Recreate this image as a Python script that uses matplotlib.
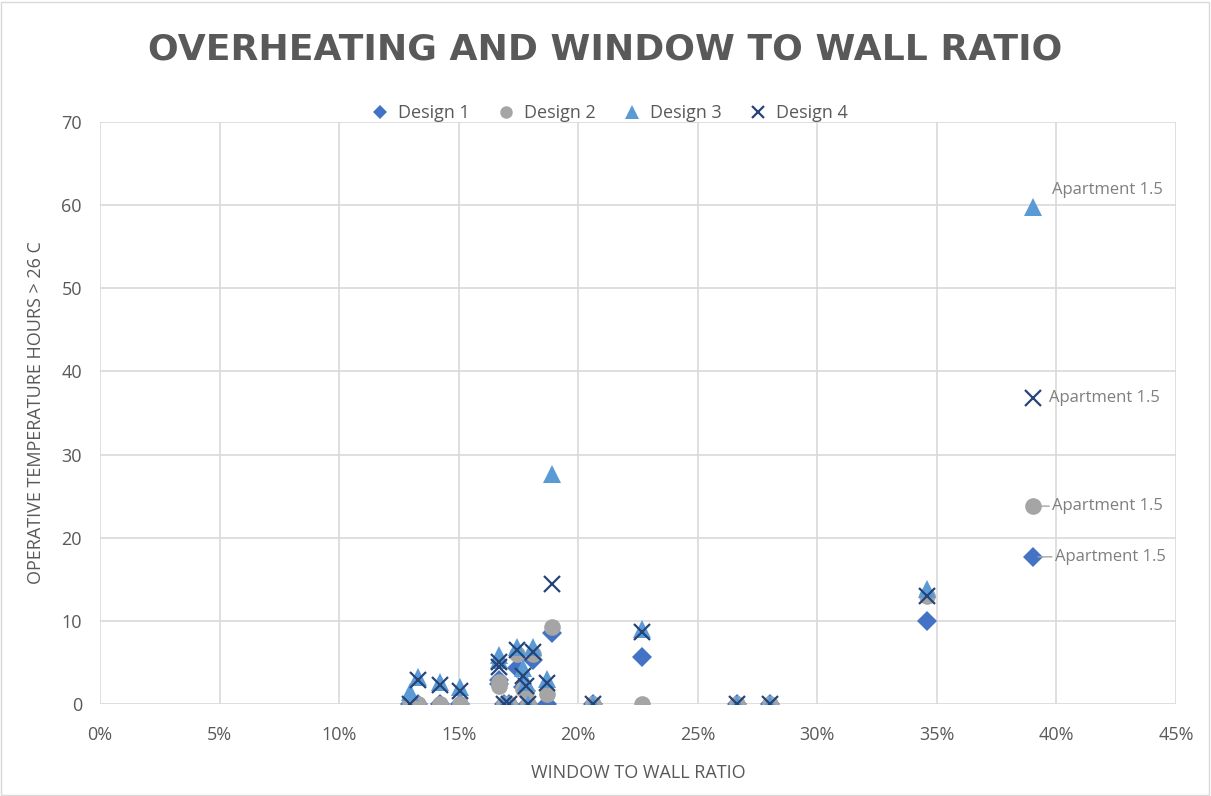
import matplotlib
matplotlib.use("Agg")
import matplotlib.pyplot as plt
from matplotlib.ticker import FuncFormatter
from matplotlib.patches import Rectangle

# Window-to-wall ratio of each apartment (shared by all designs)
wwr = [0.1295, 0.1330, 0.1420, 0.1505, 0.1670, 0.1670, 0.1690, 0.1710,
       0.1745, 0.1770, 0.1780, 0.1790, 0.1810, 0.1870, 0.1890, 0.2060,
       0.2265, 0.2665, 0.2800, 0.3460, 0.3900]

# Hours with operative temperature above 26 C, per design
design1 = [0.0, 0.0, 0.0, 0.0, 2.9, 2.4, 0.0, 0.0, 4.3, 2.0, 1.6, 0.0,
           5.3, 0.0, 8.5, 0.0, 5.6, 0.0, 0.0, 10.0, 17.7]
design2 = [0.0, 0.0, 0.0, 0.0, 2.6, 2.2, 0.0, 0.0, 6.0, 1.8, 1.4, 0.0,
           6.0, 1.2, 9.3, 0.0, 0.0, 0.0, 0.0, 13.0, 23.8]
design3 = [1.5, 3.3, 2.7, 2.0, 5.9, 5.3, 0.0, 0.0, 6.8, 4.3, 2.6, 0.0,
           6.8, 3.0, 27.7, 0.0, 9.0, 0.0, 0.0, 13.8, 59.8]
design4 = [0.0, 2.9, 2.3, 1.6, 5.0, 4.5, 0.0, 0.0, 6.5, 3.4, 2.2, 0.0,
           6.3, 2.5, 14.4, 0.0, 8.7, 0.0, 0.0, 13.0, 36.8]

series_names = ["Design 1", "Design 2", "Design 3", "Design 4"]
label_text = "Apartment 1.5"
x_ticks = [0, 0.05, 0.10, 0.15, 0.20, 0.25, 0.30, 0.35, 0.40, 0.45]
y_ticks = [0, 10, 20, 30, 40, 50, 60, 70]

TEXT = "#595959"
GRID = "#d9d9d9"
FONT = "Open Sans"

fig = plt.figure(figsize=(12.11, 7.96), dpi=100)
fig.patches.append(Rectangle((0.001, 0.001), 0.997, 0.997, transform=fig.transFigure,
                             fill=False, edgecolor=GRID, linewidth=1.0))
ax = fig.add_axes([100 / 1211, 1 - 704 / 796, 1076 / 1211, 582 / 796])

styles = [
    dict(marker="D", color="#4472C4", ms=10, mew=0),
    dict(marker="o", color="#A5A5A5", ms=12, mew=0),
    dict(marker="^", color="#5B9BD5", ms=13.5, mew=0),
    dict(marker="x", color="#264478", ms=12, mew=1.6),
]
handles = []
for name, ys, st in zip(series_names, [design1, design2, design3, design4], styles):
    h, = ax.plot(wwr, ys, linestyle="none", label=name, zorder=3, **st)
    handles.append(h)

ax.set_xlim(0, 0.45)
ax.set_ylim(0, 70)
ax.set_xticks(x_ticks)
ax.set_yticks(y_ticks)
ax.xaxis.set_major_formatter(FuncFormatter(lambda v, p: f"{v * 100:.0f}%"))
ax.grid(True, color=GRID, linewidth=1.2, zorder=0)
ax.set_axisbelow(True)
for s in ax.spines.values():
    s.set_visible(False)
ax.tick_params(length=0, labelsize=13, labelcolor=TEXT)
ax.tick_params(axis="x", pad=16)
ax.tick_params(axis="y", pad=13)
for lab in ax.get_xticklabels() + ax.get_yticklabels():
    lab.set_fontfamily(FONT)

ax.set_xlabel("WINDOW TO WALL RATIO", fontsize=13, color=TEXT, family=FONT, labelpad=14)
ax.set_ylabel("OPERATIVE TEMPERATURE HOURS > 26 C", fontsize=13, color=TEXT, family=FONT, labelpad=12)

# Data labels for the last apartment
lx = wwr[-1]
lab_color = "#7f7f7f"
ax.annotate(label_text, (lx, design3[-1]), xytext=(14, 12), textcoords="offset points",
            fontsize=12, color=lab_color, family=FONT, va="center", ha="left")
ax.annotate(label_text, (lx, design4[-1]), xytext=(12, 0), textcoords="offset points",
            fontsize=12, color=lab_color, family=FONT, va="center", ha="left")
ax.annotate(label_text, (lx, design2[-1]), xytext=(14, 0), textcoords="offset points",
            fontsize=12, color=lab_color, family=FONT, va="center", ha="left",
            arrowprops=dict(arrowstyle="-", color="#a6a6a6", lw=1, shrinkA=0, shrinkB=4))
ax.annotate(label_text, (lx, design1[-1]), xytext=(16, 0), textcoords="offset points",
            fontsize=12, color=lab_color, family=FONT, va="center", ha="left",
            arrowprops=dict(arrowstyle="-", color="#a6a6a6", lw=1, shrinkA=0, shrinkB=4))

leg = fig.legend(handles=handles, loc="center", bbox_to_anchor=(605 / 1211, 1 - 113 / 796),
                 ncol=4, frameon=False, handletextpad=0.0, columnspacing=1.0,
                 prop=dict(family=FONT, size=13), markerscale=0.75)
for t in leg.get_texts():
    t.set_color(TEXT)

fig.text(605 / 1211, 1 - 49 / 796, "OVERHEATING AND WINDOW TO WALL RATIO",
         ha="center", va="center", fontsize=26, fontweight="bold", color=TEXT,
         family="DejaVu Sans")

fig.savefig("out.png", dpi=100)
